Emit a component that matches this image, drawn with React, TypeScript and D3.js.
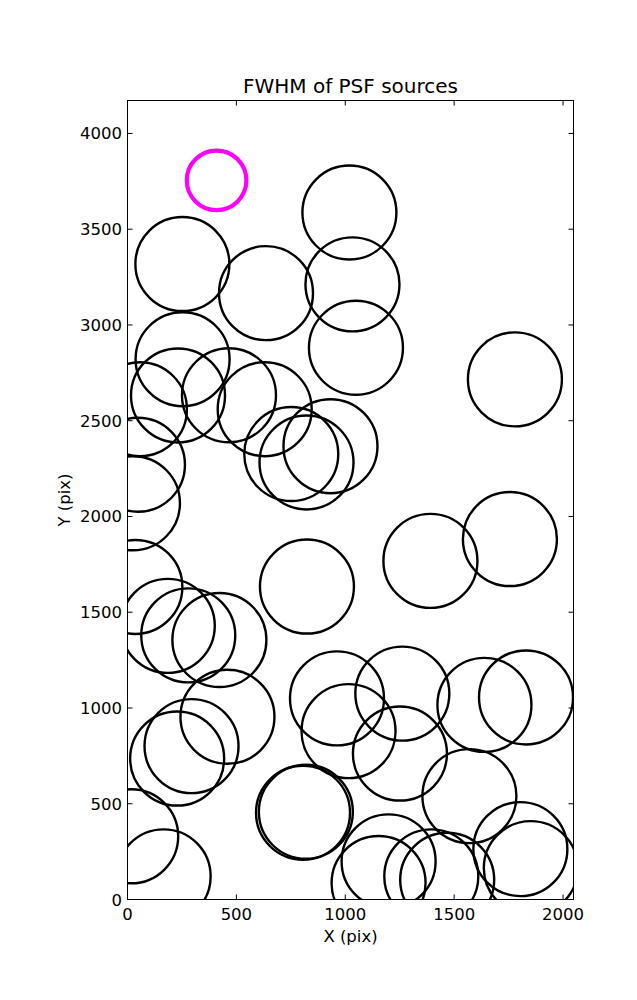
import React from 'react';
import * as d3 from 'd3';

// Source positions (pix)
const sourceX = [1019, 252, 636, 1033, 1049, 253, 1779, 232, 466, 57, 630, 932, 752, 822, 48, 25, 1391, 1756, 824, 36, 185, 279, 422, 962, 1262, 1639, 1830, 459, 1015, 1251, 294, 228, 1570, 806, 819, 1804, 1852, 1199, 1153, 1395, 1468, 17, 166];
const sourceY = [3587, 3318, 3166, 3212, 2881, 2821, 2716, 2632, 2633, 2560, 2560, 2367, 2326, 2282, 2270, 2069, 1768, 1882, 1634, 1632, 1429, 1379, 1355, 1050, 1075, 1016, 1055, 954, 879, 762, 801, 736, 540, 453, 458, 263, 164, 199, 86, 121, 103, 330, 121];

// Highlighted source
const flaggedX = [409];
const flaggedY = [3755];

const xTicks = [0, 500, 1000, 1500, 2000];
const yTicks = [0, 500, 1000, 1500, 2000, 2500, 3000, 3500, 4000];

const X_MAX = 2048;
const Y_MAX = 4172;

export default function App() {
  const W = 637, H = 1000;
  const left = 127.5, right = 573.5, top = 100.5, bottom = 899.5;
  const x = d3.scaleLinear().domain([0, X_MAX]).range([left, right]);
  const y = d3.scaleLinear().domain([0, Y_MAX]).range([bottom, top]);
  const font = "'DejaVu Sans', sans-serif";
  const tickLen = 5;

  return (
    <svg width={W} height={H} style={{ position: 'absolute', left: 0, top: 0, background: '#fff' }} fontFamily={font}>
      <defs>
        <clipPath id="plotClip">
          <rect x={left} y={top} width={right - left} height={bottom - top} />
        </clipPath>
      </defs>
      <rect x={0} y={0} width={W} height={H} fill="#fff" />
      <g clipPath="url(#plotClip)">
        {sourceX.map((sx, i) => (
          <circle key={i} cx={x(sx)} cy={y(sourceY[i])} r={47} fill="none" stroke="#000" strokeWidth={2.4} />
        ))}
        {flaggedX.map((fx, i) => (
          <circle key={'f' + i} cx={x(fx)} cy={y(flaggedY[i])} r={29.8} fill="none" stroke="#ff00ff" strokeWidth={4.2} />
        ))}
      </g>
      {xTicks.map(t => (
        <g key={'xt' + t}>
          <line x1={x(t)} x2={x(t)} y1={bottom} y2={bottom - tickLen} stroke="#000" strokeWidth={1} />
          <line x1={x(t)} x2={x(t)} y1={top} y2={top + tickLen} stroke="#000" strokeWidth={1} />
          <text x={x(t)} y={920} textAnchor="middle" fontSize={16.5} fill="#000">{t}</text>
        </g>
      ))}
      {yTicks.map(t => (
        <g key={'yt' + t}>
          <line x1={left} x2={left + tickLen} y1={y(t)} y2={y(t)} stroke="#000" strokeWidth={1} />
          <line x1={right} x2={right - tickLen} y1={y(t)} y2={y(t)} stroke="#000" strokeWidth={1} />
          <text x={122} y={y(t) + 6} textAnchor="end" fontSize={16.5} fill="#000">{t}</text>
        </g>
      ))}
      <rect x={left} y={top} width={right - left} height={bottom - top} fill="none" stroke="#000" strokeWidth={1} />
      <text x={(left + right) / 2} y={93.3} textAnchor="middle" fontSize={20} fill="#000">FWHM of PSF sources</text>
      <text x={(left + right) / 2} y={942} textAnchor="middle" fontSize={16.5} fill="#000">X (pix)</text>
      <text transform={`translate(70, ${(top + bottom) / 2}) rotate(-90)`} textAnchor="middle" fontSize={16.5} fill="#000">Y (pix)</text>
    </svg>
  );
}
